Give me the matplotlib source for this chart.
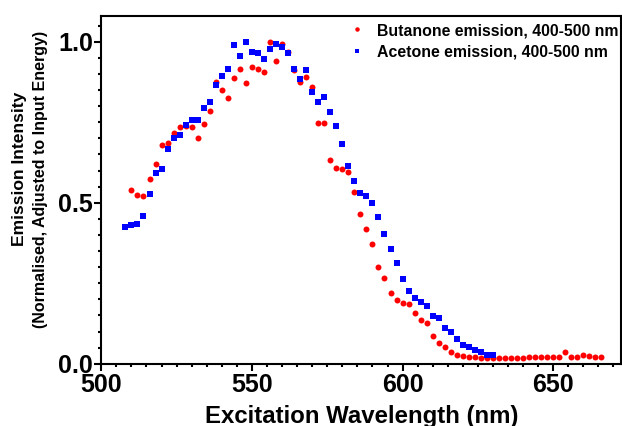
import numpy as np
import matplotlib
matplotlib.use("Agg")
import matplotlib.pyplot as plt

# ── Data ─────────────────────────────────────────────────────
butanone_wl = [510, 512, 514, 516, 518, 520, 522, 524, 526, 528,
               530, 532, 534, 536, 538, 540, 542, 544, 546, 548,
               550, 552, 554, 556, 558, 560, 562, 564, 566, 568,
               570, 572, 574, 576, 578, 580, 582, 584, 586, 588,
               590, 592, 594, 596, 598, 600, 602, 604, 606, 608,
               610, 612, 614, 616, 618, 620, 622, 624, 626, 628,
               630, 632, 634, 636, 638, 640, 642, 644, 646, 648,
               650, 652, 654, 656, 658, 660, 662, 664, 666]
butanone_int = [0.540, 0.523, 0.520, 0.574, 0.621, 0.679, 0.686, 0.717, 0.734, 0.738,
                0.736, 0.702, 0.744, 0.786, 0.876, 0.851, 0.825, 0.889, 0.916, 0.873,
                0.921, 0.916, 0.906, 0.998, 0.941, 0.993, 0.967, 0.912, 0.875, 0.891,
                0.860, 0.747, 0.749, 0.633, 0.607, 0.605, 0.594, 0.533, 0.465, 0.417,
                0.372, 0.299, 0.265, 0.221, 0.198, 0.190, 0.185, 0.158, 0.137, 0.126,
                0.087, 0.064, 0.051, 0.037, 0.027, 0.024, 0.022, 0.020, 0.019, 0.017,
                0.017, 0.017, 0.018, 0.018, 0.017, 0.019, 0.022, 0.020, 0.020, 0.020,
                0.020, 0.022, 0.037, 0.022, 0.022, 0.027, 0.025, 0.021, 0.021]

acetone_wl = [508, 510, 512, 514, 516, 518, 520, 522, 524, 526,
              528, 530, 532, 534, 536, 538, 540, 542, 544, 546,
              548, 550, 552, 554, 556, 558, 560, 562, 564, 566,
              568, 570, 572, 574, 576, 578, 580, 582, 584, 586,
              588, 590, 592, 594, 596, 598, 600, 602, 604, 606,
              608, 610, 612, 614, 616, 618, 620, 622, 624, 626,
              628, 630]
acetone_int = [0.424, 0.432, 0.435, 0.459, 0.528, 0.593, 0.605, 0.666, 0.701, 0.709,
               0.743, 0.757, 0.758, 0.794, 0.812, 0.866, 0.894, 0.914, 0.990, 0.956,
               0.998, 0.968, 0.964, 0.946, 0.977, 0.994, 0.984, 0.964, 0.915, 0.883,
               0.911, 0.844, 0.812, 0.830, 0.782, 0.737, 0.681, 0.614, 0.567, 0.530,
               0.520, 0.500, 0.456, 0.402, 0.357, 0.313, 0.264, 0.226, 0.204, 0.192,
               0.180, 0.148, 0.141, 0.112, 0.099, 0.078, 0.058, 0.052, 0.043, 0.036,
               0.027, 0.027]

x_ticks = [500, 550, 600, 650]
y_ticks = [0.0, 0.5, 1.0]
y_tick_labels = ["0.0", "0.5", "1.0"]

# ── Style ────────────────────────────────────────────────────
plt.rcParams.update({
    "font.family": ["Liberation Sans", "DejaVu Sans"],
    "font.weight": "bold",
    "axes.linewidth": 1.5,
})

W, H = 622, 426
fig = plt.figure(figsize=(W / 100, H / 100), dpi=100)
left, right, top, bottom = 101.3, 621, 15.7, 363.7
ax = fig.add_axes([left / W, (H - bottom) / H, (right - left) / W, (bottom - top) / H])

ax.plot(butanone_wl, butanone_int, "o", color="#ff0000", markersize=4.3,
        markeredgewidth=0, label="Butanone emission, 400-500 nm")
ax.plot(acetone_wl, acetone_int, "s", color="#0000ff", markersize=4.4,
        markeredgewidth=0, label="Acetone emission, 400-500 nm")

ax.set_xlim(500, 672.5)
ax.set_ylim(0, 1.081)
ax.set_xticks(x_ticks)
ax.set_xticklabels([str(v) for v in x_ticks])
ax.set_yticks(y_ticks)
ax.set_yticklabels(y_tick_labels)
ax.set_xticks(np.arange(500, 673, 5), minor=True)
ax.set_yticks(np.arange(0, 1.08, 0.05), minor=True)

ax.tick_params(which="major", length=5, width=1.5, labelsize=18)
ax.tick_params(axis="x", which="major", pad=1.5)
ax.tick_params(axis="y", which="major", pad=1)
ax.tick_params(which="minor", length=2.5, width=1.5)
for lab in ax.get_xticklabels() + ax.get_yticklabels():
    lab.set_fontweight("bold")

# axis titles
fig.text(362 / W, 1 - 423 / H, "Excitation Wavelength (nm)", ha="center", va="baseline",
         fontsize=17.3, fontweight="bold")
fig.text(20 / W, 1 - 169 / H, "Emission Intensity", rotation=90, ha="center",
         va="center", fontsize=12.6, fontweight="bold")
fig.text(40.5 / W, 1 - 179 / H, "(Normalised, Adjusted to Input Energy)", rotation=90,
         ha="center", va="center", fontsize=11.5, fontweight="bold")

leg = ax.legend(loc="upper left", bbox_to_anchor=(349 / W, 1 - 23 / H),
                bbox_transform=fig.transFigure, frameon=False, fontsize=11.4,
                markerscale=0.75, handlelength=1.0, handletextpad=0.8,
                borderpad=0, borderaxespad=0, labelspacing=0.4)
for t in leg.get_texts():
    t.set_fontweight("bold")

fig.savefig("out.png", dpi=100)
